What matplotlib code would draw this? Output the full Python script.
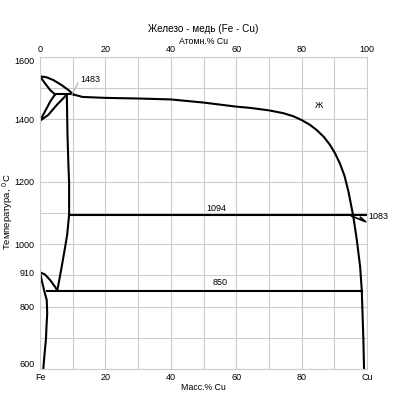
import matplotlib
matplotlib.use("Agg")
import matplotlib.pyplot as plt
import numpy as np

plt.rcParams['font.family'] = ['Liberation Sans', 'DejaVu Sans']

# ---- data (x: at.% Cu, y: temperature, °C) ----
liq_fe_x = [0, 2.0, 4.1, 6.6, 8.7, 10.2]
liq_fe_y = [1538, 1535, 1526, 1510, 1494, 1480]

delta_sol_x = [0, 1.5, 3.1, 4.6]
delta_sol_y = [1538, 1516, 1494, 1480]

delta_lens_up_x = [0, 1.5, 3.1, 4.6]
delta_lens_up_y = [1396, 1425, 1457, 1480]
delta_lens_lo_x = [0, 2.5, 5.1, 7.6, 8.2]
delta_lens_lo_y = [1396, 1414, 1446, 1473, 1480]

gamma_x = [8.2, 8.4, 8.7, 8.9, 8.9, 8.3, 7.6, 6.6, 5.3]
gamma_y = [1480, 1350, 1250, 1195, 1094, 1030, 986, 926, 852]

gamma_fe_x = [0, 1.5, 3.1, 4.3, 5.3]
gamma_fe_y = [910, 903, 885, 868, 852]

alpha_x = [0, 0.5, 1.3, 2.05, 2.2, 2.0, 1.8, 1.4, 1.0]
alpha_y = [910, 885, 850, 821, 779, 740, 693, 650, 600]

liquidus_x = [10.2, 13, 20, 30, 40, 50, 60, 64.2, 70, 74.4, 77.5, 80, 82.5, 84.6,
              86.8, 88.7, 90.3, 91.7, 93.1, 94.3, 95.8, 96.9, 97.9, 98.4, 98.9, 99.1]
liquidus_y = [1480, 1472, 1469, 1467, 1464, 1454, 1441, 1437, 1429, 1420, 1410,
              1398, 1383, 1366, 1344, 1318, 1290, 1259, 1220, 1170, 1090, 1013,
              928, 853, 693, 600]

cu_lens_x = [95.3, 99.6, 98.0]
cu_lens_y = [1090, 1072, 1086]

peritectic_T = 1480
peritectic_x = [4.6, 10.2]
mono_T = 1094
mono_x = [8.8, 100]
eutectoid_T = 850
eutectoid_x = [2.05, 98.4]

labels_txt = ["1483", "1094", "850", "1083", "Ж"]
labels_x = [12.2, 54.0, 55.0, 100.4, 85.2]
labels_y = [1529, 1116, 876, 1088, 1446]

x_ticks = [0, 20, 40, 60, 80, 100]
x_bottom_labels = ["Fe", "20", "40", "60", "80", "Cu"]
x_top_labels = ["0", "20", "40", "60", "80", "100"]
y_ticks = [600, 800, 910, 1000, 1200, 1400, 1600]
y_tick_labels = ["600", "800", "910", "1000", "1200", "1400", "1600"]

# ---- figure ----
fig = plt.figure(figsize=(3.97, 4.11), dpi=100)
ax = fig.add_axes([0.1008, 0.1022, 0.8236, 0.7591])
ax.set_xlim(0, 100)
ax.set_ylim(600, 1600)

gridc = '#cccccc'
ax.set_xticks(np.arange(0, 101, 10), minor=True)
ax.set_yticks(np.arange(600, 1601, 100), minor=True)
ax.xaxis.remove_overlapping_locs = False
ax.yaxis.remove_overlapping_locs = False
ax.grid(which='minor', color=gridc, linewidth=0.8)
ax.grid(which='major', visible=False)
ax.set_axisbelow(True)
for s in ax.spines.values():
    s.set_color(gridc)
    s.set_linewidth(0.8)

fs = 6.5
ax.set_xticks(x_ticks)
ax.set_xticklabels(x_bottom_labels, fontsize=fs)
ax.set_yticks(y_ticks)
ax.set_yticklabels(y_tick_labels, fontsize=fs)
ax.tick_params(which='both', length=0)
ax.tick_params(axis='x', pad=3)
ax.tick_params(axis='y', pad=4)
for t in ax.get_yticklabels():
    if t.get_text() == "1600":
        t.set_verticalalignment('top')
    elif t.get_text() == "600":
        t.set_verticalalignment('bottom')

top = ax.secondary_xaxis('top')
top.set_xticks(x_ticks)
top.set_xticklabels(x_top_labels, fontsize=fs)
top.tick_params(length=0, pad=2)
top.spines['top'].set_visible(False)

lw = 1.5
k = 'black'
ax.plot(liq_fe_x, liq_fe_y, color=k, lw=lw)
ax.plot(delta_sol_x, delta_sol_y, color=k, lw=lw)
ax.plot(delta_lens_up_x, delta_lens_up_y, color=k, lw=lw)
ax.plot(delta_lens_lo_x, delta_lens_lo_y, color=k, lw=lw)
ax.plot(gamma_x, gamma_y, color=k, lw=lw)
ax.plot(gamma_fe_x, gamma_fe_y, color=k, lw=lw)
ax.plot(alpha_x, alpha_y, color=k, lw=lw)
ax.plot(liquidus_x, liquidus_y, color=k, lw=lw)
ax.plot(cu_lens_x, cu_lens_y, color=k, lw=1.2)
ax.plot(peritectic_x, [peritectic_T] * 2, color=k, lw=lw)
ax.plot(mono_x, [mono_T] * 2, color=k, lw=lw, clip_on=False)
ax.plot(eutectoid_x, [eutectoid_T] * 2, color=k, lw=lw)

# leader for 1483
ax.plot([9.7, 11.6], [1478, 1517], color='#b0b0b0', lw=0.8)

for t, x, y in zip(labels_txt, labels_x, labels_y):
    ax.text(x, y, t, fontsize=fs, ha='left' if t in ("1483", "1083") else 'center',
            va='center', clip_on=False)

fig.text(0.512, 0.929, "Железо - медь (Fe - Cu)", ha='center', va='center', fontsize=7.2)
fig.text(0.512, 0.900, "Атомн.% Cu", ha='center', va='center', fontsize=6.3)
fig.text(0.512, 0.058, "Масс.% Cu", ha='center', va='center', fontsize=6.3)
fig.text(0.019, 0.484, "Температура, $^{0}$C", ha='center', va='center',
         rotation=90, fontsize=6.8)

fig.savefig("out.png", dpi=100, facecolor='white')
